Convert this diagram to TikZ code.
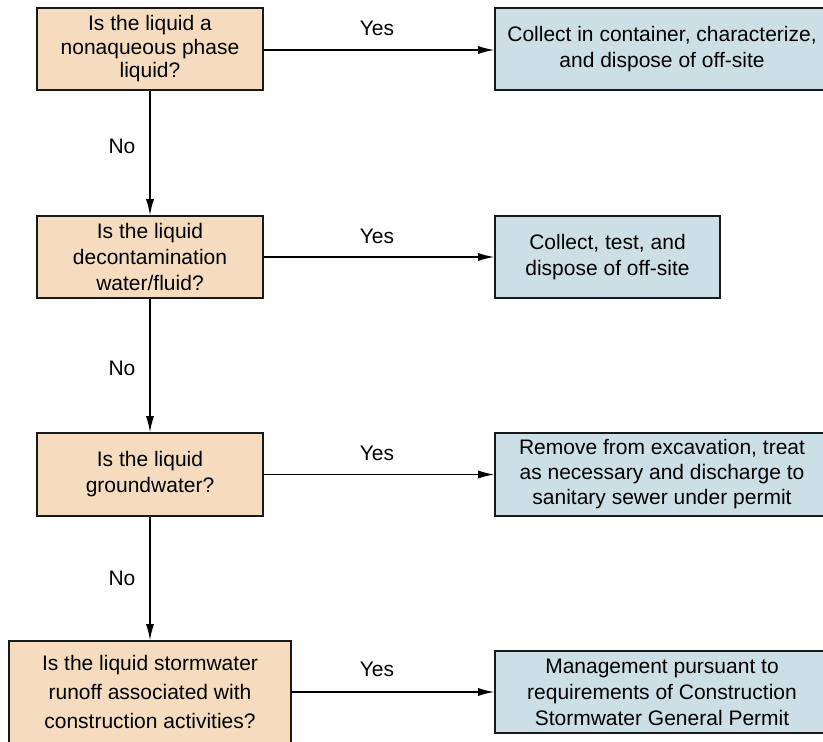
\documentclass[tikz,border=0pt]{standalone}
\usepackage{fontspec}
\setmainfont{Liberation Sans}
\usetikzlibrary{arrows.meta}
\definecolor{qfill}{RGB}{245,220,190}
\definecolor{afill}{RGB}{205,223,230}
\definecolor{edge}{RGB}{25,25,25}
\tikzset{
  qbox/.style={draw=edge, line width=1.6pt, fill=qfill, align=center, inner sep=0pt,
    font=\fontsize{21}{26}\selectfont},
  abox/.style={draw=edge, line width=1.6pt, fill=afill, align=center, inner sep=0pt,
    font=\fontsize{21}{26}\selectfont},
  conn/.style={draw=black, line width=1.3pt, -{Latex[length=16pt,width=8pt]}},
  lbl/.style={font=\fontsize{21}{26}\selectfont, inner sep=0pt}
}
\begin{document}
\begin{tikzpicture}[x=1pt,y=-1pt]
\path[use as bounding box] (0,0) rectangle (823,742);
\clip (0,0) rectangle (823,742);
\fill[white] (0,0) rectangle (823,742);
% questions
\node[qbox, minimum width=226pt, minimum height=82pt, font=\fontsize{21}{23.5}\selectfont] (q1) at (150,49) {Is the liquid a\\nonaqueous phase\\liquid?};
\node[qbox, minimum width=226pt, minimum height=82pt] (q2) at (150,257) {Is the liquid\\decontamination\\water/fluid?};
\node[qbox, minimum width=226pt, minimum height=83pt] (q3) at (150,474.5) {Is the liquid\\groundwater?};
\node[qbox, minimum width=282pt, minimum height=102pt, font=\fontsize{21}{29}\selectfont] (q4) at (150,692) {Is the liquid stormwater\\runoff associated with\\construction activities?};
% actions
\node[abox, minimum width=334pt, minimum height=82pt] (a1) at (662,49) {Collect in container, characterize,\\and dispose of off-site};
\node[abox, minimum width=225pt, minimum height=82pt] (a2) at (607.5,257) {Collect, test, and\\dispose of off-site};
\node[abox, minimum width=334pt, minimum height=83pt, font=\fontsize{21}{25}\selectfont] (a3) at (662,474.5) {Remove from excavation, treat\\as necessary and discharge to\\sanitary sewer under permit};
\node[abox, minimum width=334pt, minimum height=82pt] (a4) at (662,692) {Management pursuant to\\requirements of Construction\\Stormwater General Permit};
% connectors
\draw[conn] (q1.east |- 0,50) -- (a1.west |- 0,50);
\draw[conn] (q2.east) -- (a2.west);
\draw[conn] (q3.east) -- (a3.west);
\draw[conn] (q4.east) -- (a4.west);
\draw[conn] (q1.south) -- (q2.north);
\draw[conn] (q2.south) -- (q3.north);
\draw[conn] (q3.south) -- (q4.north);
% labels
\node[lbl] (y1) at (377,28) {Yes};
\node[lbl] (y2) at (377,236) {Yes};
\node[lbl] (y3) at (377,453) {Yes};
\node[lbl] (y4) at (377,669) {Yes};
\node[lbl] (n1) at (122,146) {No};
\node[lbl] (n2) at (122,368) {No};
\node[lbl] (n3) at (122,578) {No};
\end{tikzpicture}
\end{document}
